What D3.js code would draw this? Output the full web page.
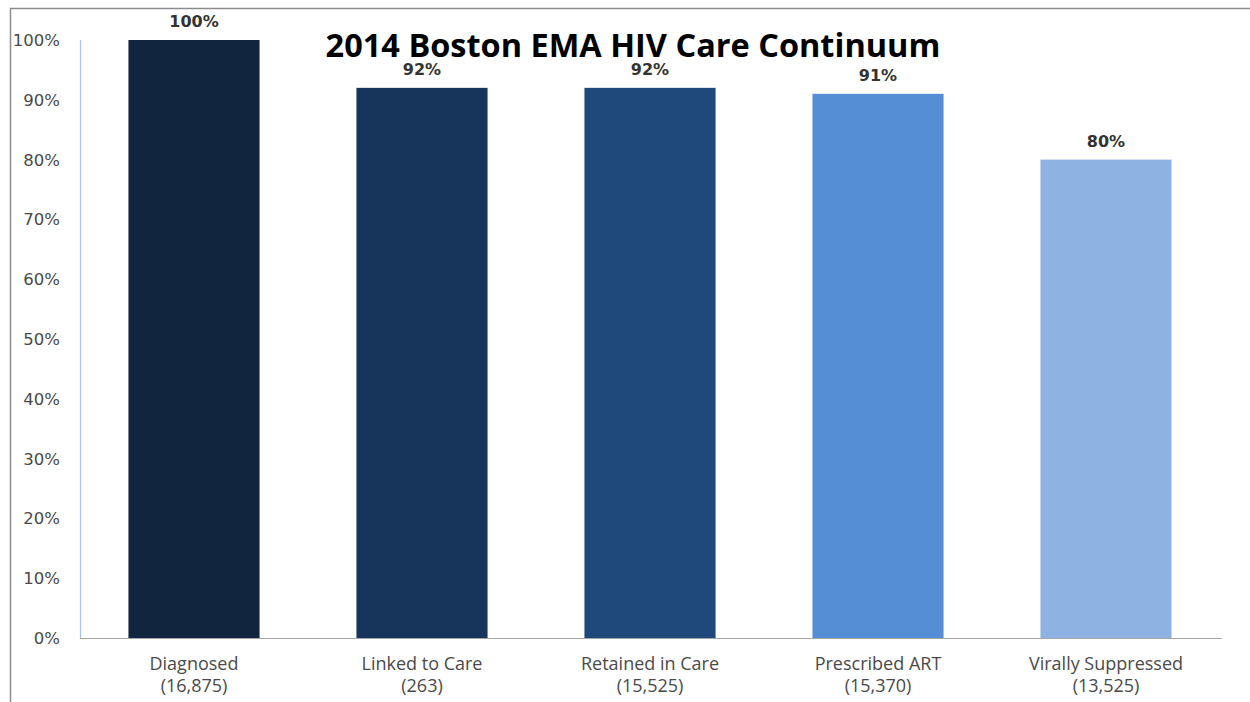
<!DOCTYPE html>
<html>
<head>
<meta charset="utf-8">
<script src="https://cdn.jsdelivr.net/npm/d3@7"></script>
<style>
  html, body { margin: 0; padding: 0; background: #fff; }
  svg { display: block; }
</style>
</head>
<body>
<svg id="chart" width="1250" height="702"></svg>
<script>
const categories = ["Diagnosed", "Linked to Care", "Retained in Care", "Prescribed ART", "Virally Suppressed"];
const counts = ["(16,875)", "(263)", "(15,525)", "(15,370)", "(13,525)"];
const values = [100, 92, 92, 91, 80];
const barColors = ["#12253f", "#17355a", "#1f487b", "#558ed5", "#8eb3e2"];
const yTicks = [0, 10, 20, 30, 40, 50, 60, 70, 80, 90, 100];
const title = "2014 Boston EMA HIV Care Continuum";

const svg = d3.select("#chart");
const labelFont = "'Open Sans', sans-serif";
const numFont = "'DejaVu Sans', sans-serif";

// outer border (top & left)
svg.append("line").attr("x1", 10).attr("x2", 1250).attr("y1", 8.5).attr("y2", 8.5)
  .attr("stroke", "#8c8c8c").attr("stroke-width", 1.5);
svg.append("line").attr("x1", 10.5).attr("x2", 10.5).attr("y1", 8).attr("y2", 702)
  .attr("stroke", "#8c8c8c").attr("stroke-width", 1.5);

const x = d3.scaleBand().domain(categories).range([80, 1220]).paddingInner(0.425).paddingOuter(0.2125);
const y = d3.scaleLinear().domain([0, 100]).range([638, 40]);

// y axis line
svg.append("line").attr("x1", 80.5).attr("x2", 80.5).attr("y1", y(100)).attr("y2", y(0))
  .attr("stroke", "#a9c4ec").attr("stroke-width", 1.2);

// y tick labels
svg.append("g").selectAll("text").data(yTicks).join("text")
  .attr("x", 60).attr("y", d => y(d)).attr("dy", "0.36em")
  .attr("text-anchor", "end")
  .attr("font-family", numFont).attr("font-size", 16.5).attr("fill", "#4a4a4a")
  .text(d => d + "%");

// bars
svg.append("g").selectAll("rect").data(values).join("rect")
  .attr("x", (d, i) => x(categories[i]))
  .attr("y", d => y(d))
  .attr("width", x.bandwidth())
  .attr("height", d => y(0) - y(d))
  .attr("fill", (d, i) => barColors[i]);

// baseline
svg.append("line").attr("x1", 80).attr("x2", 1222).attr("y1", y(0) + 0.5).attr("y2", y(0) + 0.5)
  .attr("stroke", "#a6a6a6").attr("stroke-width", 1.2);

// value labels
svg.append("g").selectAll("text").data(values).join("text")
  .attr("x", (d, i) => x(categories[i]) + x.bandwidth() / 2)
  .attr("y", d => y(d) - 13)
  .attr("text-anchor", "middle")
  .attr("font-family", numFont).attr("font-weight", "bold").attr("font-size", 16).attr("fill", "#333333")
  .text(d => d + "%");

// x labels
const xl = svg.append("g").selectAll("text").data(categories).join("text")
  .attr("x", d => x(d) + x.bandwidth() / 2)
  .attr("text-anchor", "middle")
  .attr("font-family", labelFont).attr("font-size", 18).attr("fill", "#4a4a4a");
xl.append("tspan").attr("x", d => x(d) + x.bandwidth() / 2).attr("y", 670).text(d => d);
xl.append("tspan").attr("x", d => x(d) + x.bandwidth() / 2).attr("y", 692).text((d, i) => counts[i]);

// title
svg.append("text").attr("x", 633).attr("y", 57).attr("text-anchor", "middle")
  .attr("font-family", labelFont).attr("font-weight", "bold").attr("font-size", 32.5).attr("fill", "#000")
  .text(title);
</script>
</body>
</html>
